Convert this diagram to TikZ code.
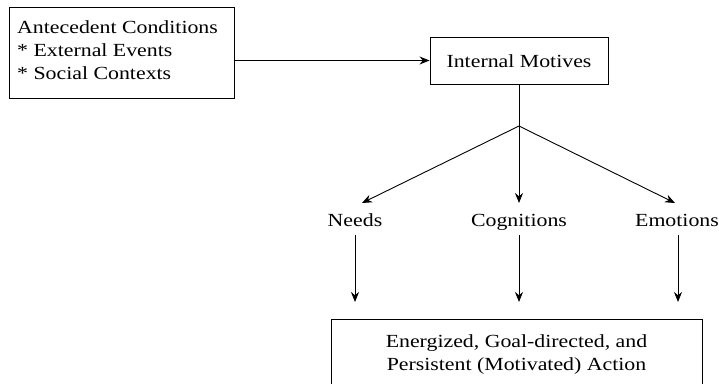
\documentclass[tikz,border=0pt]{standalone}
\usepackage{fontspec}
\setmainfont[FakeStretch=1.18]{Liberation Serif}
\usetikzlibrary{arrows.meta}
\begin{document}
\begin{tikzpicture}[x=1pt,y=-1pt,
  every node/.style={font=\fontsize{18.5}{23}\selectfont, inner sep=0pt},
  boxed/.style={draw, line width=0.9pt},
  conn/.style={line width=0.9pt},
  arr/.style={conn, -{Stealth[length=10pt,width=8pt]}},
  lbl/.style={anchor=base}]
\useasboundingbox (0,0) rectangle (719,383);
\clip (0,0) rectangle (719,383);
% Antecedent box
\node[boxed, minimum width=225pt, minimum height=91pt] (ant) at (121.5,52.5) {};
\node[anchor=north west, align=left] (antt) at (17,20.5) {Antecedent Conditions\\* External Events\\* Social Contexts};
% Internal motives
\node[boxed, minimum width=178pt, minimum height=47pt] (im) at (519,60.5) {};
\node[lbl] (imt) at (519,67) {Internal Motives};
\coordinate (j) at (519,126);
% labels
\node[lbl] (needs) at (355,226) {Needs};
\node[lbl] (cog) at (519,226) {Cognitions};
\node[lbl] (emo) at (677,226) {Emotions};
\coordinate (n1) at (362,203);
\coordinate (c1) at (519,203);
\coordinate (e1) at (675,203);
\coordinate (n2) at (355,235); \coordinate (n3) at (355,302);
\coordinate (c2) at (519,235); \coordinate (c3) at (519,302);
\coordinate (e2) at (678,235); \coordinate (e3) at (678,302);
% bottom box
\node[boxed, minimum width=371pt, minimum height=100pt, anchor=north west] (act) at (331,319) {};
\node[lbl] (actt1) at (516.5,347) {Energized, Goal-directed, and};
\node[lbl] (actt2) at (516.5,370) {Persistent (Motivated) Action};
% connectors
\draw[arr] (ant.east |- im.west) -- (im.west);
\draw[conn] (im.south) -- (j);
\draw[arr] (j) -- (n1);
\draw[arr] (j) -- (c1);
\draw[arr] (j) -- (e1);
\draw[arr] (n2) -- (n3);
\draw[arr] (c2) -- (c3);
\draw[arr] (e2) -- (e3);
\end{tikzpicture}
\end{document}
